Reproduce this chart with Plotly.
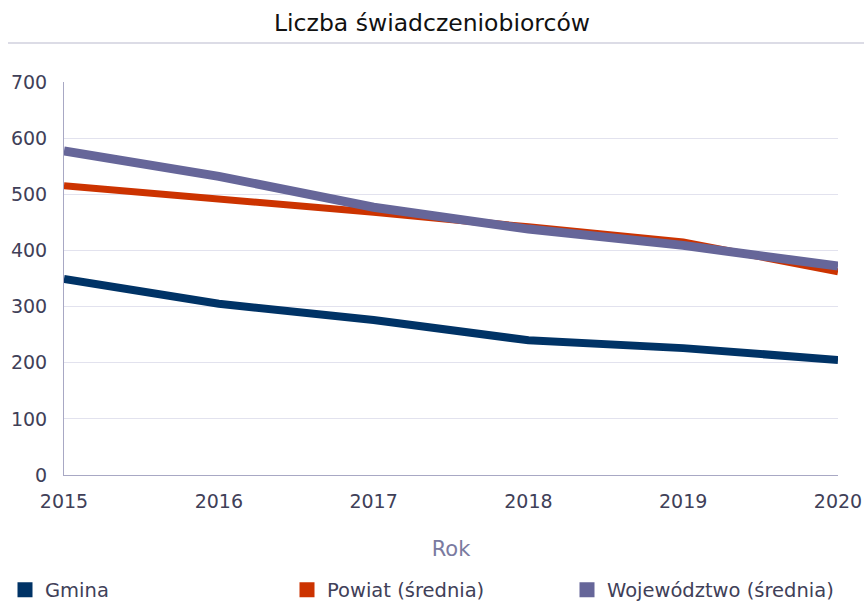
import plotly.graph_objects as go

years = [2015, 2016, 2017, 2018, 2019, 2020]
gmina = [349, 305, 276, 240, 226, 205]
powiat = [515, 493, 468, 442, 415, 362]
wojewodztwo = [577, 532, 477, 438, 409, 372]

series = [
    ("Gmina", gmina, "#003366", 8, "legend"),
    ("Powiat (średnia)", powiat, "#CC3300", 7, "legend2"),
    ("Województwo (średnia)", wojewodztwo, "#666699", 9, "legend3"),
]

FONT = "DejaVu Sans"
W, H = 864, 605
L, R, T, B = 64, 838, 82, 475  # plot area in pixels

fig = go.Figure()
for name, vals, color, w, lg in series:
    fig.add_trace(go.Scatter(x=years, y=vals, mode="lines", name=name,
                             line=dict(color=color, width=w), showlegend=False,
                             hoverinfo="skip"))
for name, vals, color, w, lg in series:
    fig.add_trace(go.Scatter(x=[None], y=[None], mode="markers", name=name,
                             legend=lg,
                             marker=dict(color=color, symbol="square", size=15)))


def px_x(p):
    return (p - L) / (R - L)


def px_y(p):
    return (B - p) / (B - T)


legend_common = dict(orientation="h", xanchor="left", yanchor="middle",
                     y=px_y(590), font=dict(family=FONT, size=19.5, color="#404058"),
                     bgcolor="rgba(0,0,0,0)")

fig.update_layout(
    width=W, height=H,
    margin=dict(l=L, r=W - R, t=T, b=H - B, autoexpand=False),
    paper_bgcolor="white", plot_bgcolor="white",
    title=dict(text="Liczba świadczeniobiorców", x=0.5, xanchor="center",
               y=1 - 23 / H, yanchor="middle",
               font=dict(family=FONT, size=23.5, color="#111111")),
    font=dict(family=FONT, size=18, color="#404058"),
    xaxis=dict(range=[2015, 2020], tickvals=years, ticktext=[str(y) for y in years],
               showgrid=False, showline=True, linecolor="#a8a8c4", linewidth=1,
               ticks="", ticklabelstandoff=9, tickfont=dict(size=19, color="#404058"),
               title=dict(text="Rok", font=dict(size=21, color="#7a7aa0"), standoff=30),
               zeroline=False, fixedrange=True),
    yaxis=dict(range=[0, 700], tickvals=[0, 100, 200, 300, 400, 500, 600, 700],
               showgrid=True, gridcolor="#e2e2ee", gridwidth=1,
               showline=True, linecolor="#a8a8c4", linewidth=1,
               ticks="", ticklabelstandoff=12, tickfont=dict(size=19, color="#404058"),
               zeroline=False, fixedrange=True),
    legend=dict(x=px_x(5), **legend_common),
    legend2=dict(x=px_x(287), **legend_common),
    legend3=dict(x=px_x(567), **legend_common),
    showlegend=True,
)

fig.add_shape(type="line", xref="paper", yref="paper",
              x0=px_x(8), x1=px_x(864),
              y0=px_y(43), y1=px_y(43),
              line=dict(color="#dcdce6", width=2))

fig.write_html("out.html", config={"displayModeBar": False},
               post_script="document.body.style.margin='0';")
